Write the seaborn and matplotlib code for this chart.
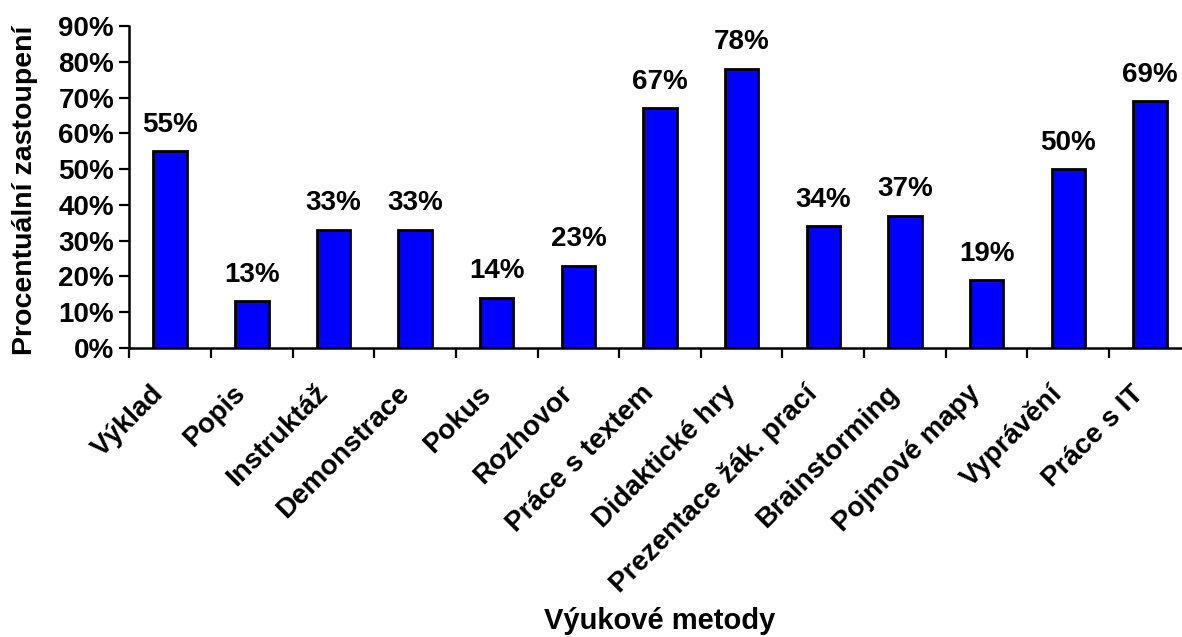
import matplotlib
matplotlib.use("Agg")
import matplotlib.pyplot as plt
import matplotlib.transforms as mtransforms
import seaborn as sns
import pandas as pd
from matplotlib.ticker import FixedLocator, PercentFormatter

methods = [
    "Výklad", "Popis", "Instruktáž", "Demonstrace", "Pokus", "Rozhovor",
    "Práce s textem", "Didaktické hry", "Prezentace žák. prací",
    "Brainstorming", "Pojmové mapy", "Vyprávění", "Práce s IT",
]
shares = [0.55, 0.13, 0.33, 0.33, 0.14, 0.23, 0.67, 0.78, 0.34, 0.37, 0.19, 0.50, 0.69]
y_ticks = [0.0, 0.1, 0.2, 0.3, 0.4, 0.5, 0.6, 0.7, 0.8, 0.9]

df = pd.DataFrame({"metoda": methods, "podil": shares})

sns.set_theme(style="white")
plt.rcParams["font.family"] = ["Liberation Sans", "DejaVu Sans"]
plt.rcParams["font.weight"] = "bold"

fig = plt.figure(figsize=(11.82, 6.37), dpi=100)
ax = fig.add_axes([129.3 / 1182, 1 - 348 / 637, (13 * 81.65) / 1182, (348 - 26) / 637])

sns.barplot(data=df, x="metoda", y="podil", color="#0000FF", saturation=1,
            width=0.41, edgecolor="black", linewidth=2.0, ax=ax)

ax.set_xlim(-0.5, len(methods) - 0.5)
ax.set_ylim(0, 0.9)
ax.set_yticks(y_ticks)
ax.yaxis.set_major_formatter(PercentFormatter(1.0, decimals=0))

# category boundaries carry the tick marks, labels sit at the centres
ax.xaxis.set_minor_locator(FixedLocator([i - 0.5 for i in range(len(methods) + 1)]))
ax.tick_params(axis="x", which="major", length=0, pad=30)
ax.tick_params(axis="x", which="minor", length=7, width=1.6, color="black", direction="out", bottom=True)
ax.tick_params(axis="y", which="major", length=7, width=1.6, color="black", direction="out", left=True, pad=4)
ax.tick_params(labelsize=20, labelcolor="black")

shift = mtransforms.ScaledTranslation(-0.10, 0, fig.dpi_scale_trans)
for lab in ax.get_xticklabels():
    lab.set_rotation(45)
    lab.set_ha("right")
    lab.set_va("center")
    lab.set_rotation_mode("anchor")
    lab.set_fontweight("bold")
    lab.set_transform(lab.get_transform() + shift)
for lab in ax.get_yticklabels():
    lab.set_fontweight("bold")

for spine in ["top", "right"]:
    ax.spines[spine].set_visible(False)
for spine in ["left", "bottom"]:
    ax.spines[spine].set_linewidth(1.8)
    ax.spines[spine].set_color("black")

for i, v in enumerate(shares):
    ax.annotate(f"{round(v * 100)}%", xy=(i, v), xytext=(0, 14), textcoords="offset points",
                ha="center", va="baseline", fontsize=20, fontweight="bold", color="black")

ax.set_xlabel("Výukové metody", fontsize=21, fontweight="bold", color="black")
ax.set_ylabel("Procentuální zastoupení", fontsize=20.5, fontweight="bold", color="black")
ax.xaxis.set_label_coords((660 - 129.3) / (13 * 81.65), -(621 - 348) / (348 - 26))
ax.yaxis.set_label_coords(-(129.3 - 25) / (13 * 81.65), (348 - 190) / (348 - 26))
ax.xaxis.label.set_va("center")
ax.yaxis.label.set_va("center")

fig.savefig("out.png", dpi=100, facecolor="white")
